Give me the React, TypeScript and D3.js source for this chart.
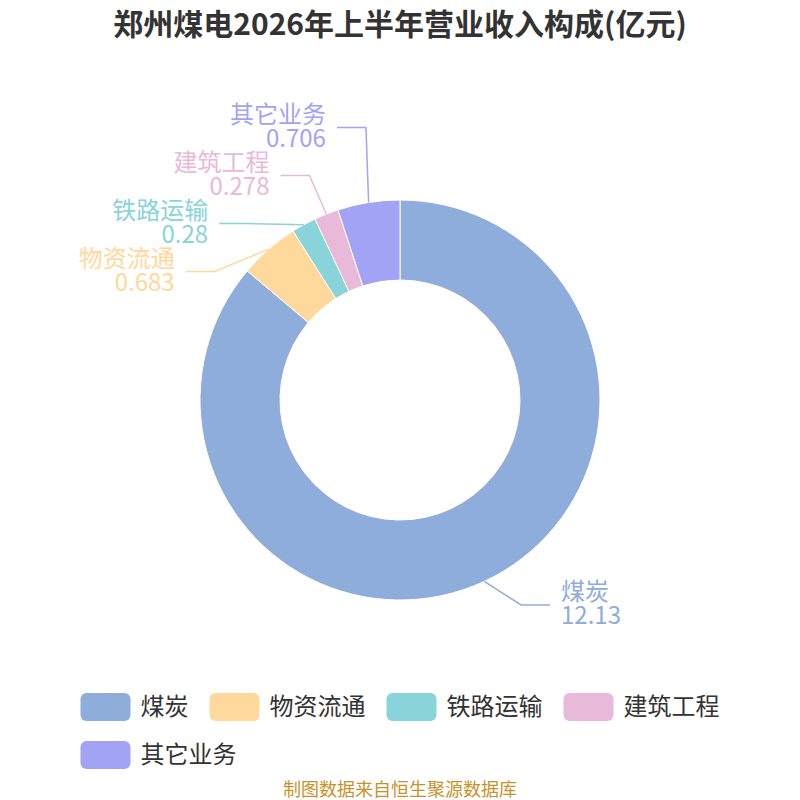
import { useEffect, useRef } from 'react';
import * as d3 from 'd3';

const title = '郑州煤电2026年上半年营业收入构成(亿元)';
const source = '制图数据来自恒生聚源数据库';
const categories = ['煤炭', '物资流通', '铁路运输', '建筑工程', '其它业务'];
const values = [12.13, 0.683, 0.28, 0.278, 0.706];
const colors = ['#8FADDA', '#FFD99B', '#89D4D8', '#E8B9D9', '#A2A3F5'];

const FONT = '"Noto Sans CJK SC", "Noto Sans", sans-serif';

export default function App() {
  const svgRef = useRef<SVGSVGElement>(null);

  useEffect(() => {
    if (!svgRef.current) return;
    const width = 800;
    const cx = 400;
    const cy = 400;
    const outer = 200;
    const inner = 120;

    const svg = d3.select(svgRef.current);
    svg.selectAll('*').remove();

    svg.append('text')
      .attr('x', width / 2)
      .attr('y', 35)
      .attr('text-anchor', 'middle')
      .attr('font-family', FONT)
      .attr('font-weight', 'bold')
      .attr('font-size', '30px')
      .attr('fill', '#333')
      .text(title);

    const data = categories.map((name, i) => ({ name, value: values[i], color: colors[i] }));
    const pie = d3.pie<any>().sort(null).value((d: any) => d.value);
    const arcs = pie(data);
    const arc = d3.arc<any>().innerRadius(inner).outerRadius(outer);

    const g = svg.append('g').attr('transform', `translate(${cx},${cy})`);
    g.selectAll('path')
      .data(arcs)
      .enter()
      .append('path')
      .attr('d', arc)
      .attr('fill', (d: any) => d.data.color)
      .attr('stroke', '#fff')
      .attr('stroke-width', 1);

    // label layout: natural position, then spread to avoid overlap
    const rA = outer + 17;
    const rB = 247;
    const len2 = 29;
    const spacing = 48;
    const labels = arcs.map((a: any) => {
      const mid = (a.startAngle + a.endAngle) / 2;
      const side = Math.sin(mid) >= 0 ? 1 : -1;
      const y0 = cy - (outer + 26) * Math.cos(mid);
      return { a, mid, side, y0, y: y0 };
    });
    [1, -1].forEach((side) => {
      const list = labels.filter((l) => l.side === side).sort((p, q) => p.y0 - q.y0);
      if (!list.length) return;
      for (let i = 1; i < list.length; i++) {
        list[i].y = Math.max(list[i].y0, list[i - 1].y + spacing);
      }
      const shift = d3.mean(list, (l) => l.y0)! - d3.mean(list, (l) => l.y)!;
      list.forEach((l) => (l.y += shift));
    });

    const lg = svg.append('g');
    labels.forEach((l) => {
      const px = cx + outer * Math.sin(l.mid);
      const py = cy - outer * Math.cos(l.mid);
      const dy = Math.abs(l.y - cy);
      const ellDx = dy < rB ? rA * Math.sqrt(1 - (dy * dy) / (rB * rB)) : 0;
      const natDx = Math.abs(rA * Math.sin(l.mid));
      const ex = cx + l.side * Math.max(ellDx, natDx);
      const hx = ex + l.side * len2;
      const color = l.a.data.color;
      lg.append('polyline')
        .attr('points', `${px},${py} ${ex},${l.y} ${hx},${l.y}`)
        .attr('fill', 'none')
        .attr('stroke', color)
        .attr('stroke-width', 1.5);
      const tx = hx + l.side * 11;
      const t = lg.append('text')
        .attr('text-anchor', l.side > 0 ? 'start' : 'end')
        .attr('font-family', FONT)
        .attr('font-size', '24px')
        .attr('fill', color);
      t.append('tspan').attr('x', tx).attr('y', l.y - 5).text(l.a.data.name);
      t.append('tspan').attr('x', tx).attr('y', l.y + 19).text(String(l.a.data.value));
    });

    // legend
    const fs = 24;
    const sw = 50;
    const sh = 28;
    const gap = 21;
    const maxRow = 660;
    const items = data.map((d) => ({ ...d, w: sw + 10 + d.name.length * fs }));
    const rows: any[][] = [[]];
    let rowW = 0;
    items.forEach((it) => {
      const add = (rows[rows.length - 1].length ? gap : 0) + it.w;
      if (rowW + add > maxRow && rows[rows.length - 1].length) {
        rows.push([it]);
        rowW = it.w;
      } else {
        rows[rows.length - 1].push(it);
        rowW += add;
      }
    });
    const widths = rows.map((r) => d3.sum(r, (it: any) => it.w) + gap * (r.length - 1));
    const left = (width - d3.max(widths)!) / 2;
    const leg = svg.append('g');
    rows.forEach((r, ri) => {
      let x = left;
      const y = 693 + ri * 48;
      r.forEach((it: any) => {
        leg.append('rect')
          .attr('x', x)
          .attr('y', y)
          .attr('width', sw)
          .attr('height', sh)
          .attr('rx', 6)
          .attr('fill', it.color);
        leg.append('text')
          .attr('x', x + sw + 10)
          .attr('y', y + sh / 2 + 8)
          .attr('font-family', FONT)
          .attr('font-size', `${fs}px`)
          .attr('fill', '#333')
          .text(it.name);
        x += it.w + gap;
      });
    });

    svg.append('text')
      .attr('x', width / 2)
      .attr('y', 796)
      .attr('text-anchor', 'middle')
      .attr('font-family', FONT)
      .attr('font-size', '18px')
      .attr('fill', '#C8922B')
      .text(source);
  }, []);

  return (
    <svg
      ref={svgRef}
      width={800}
      height={800}
      style={{ position: 'absolute', left: 0, top: 0, background: '#fff' }}
    />
  );
}
